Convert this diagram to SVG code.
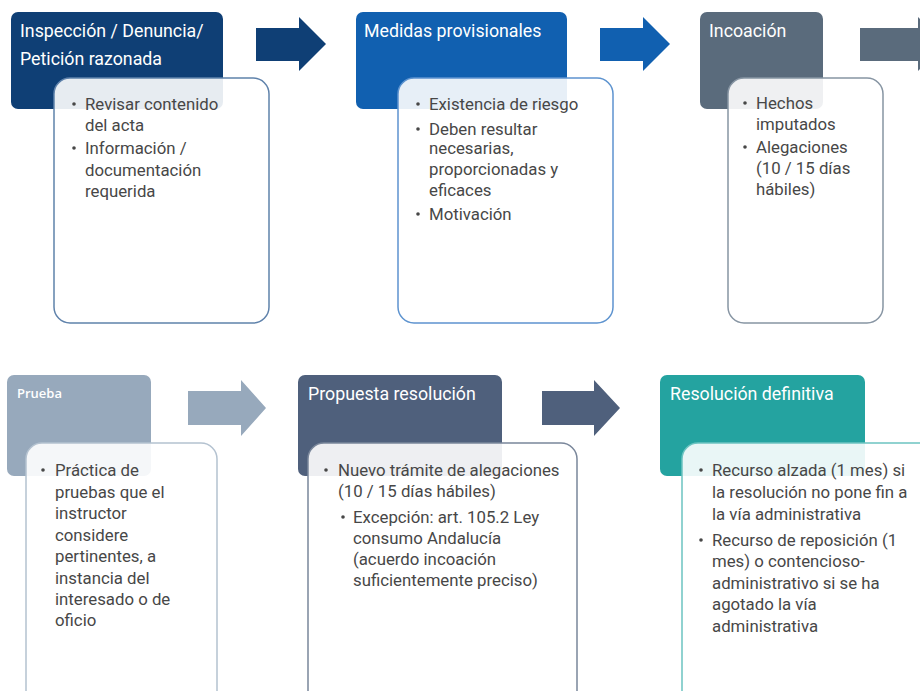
<svg xmlns="http://www.w3.org/2000/svg" width="920" height="691" viewBox="0 0 920 691">
  <style>
    .hd { font-family: Roboto, "Liberation Sans", Arial, sans-serif; font-size: 17.8px; fill: #ffffff; }
    .hd-s { font-family: "Open Sans", "Liberation Sans", sans-serif; font-size: 13px; font-weight: 600; fill: #ffffff; }
    .bd { fill: #ffffff; fill-opacity: 0.9; stroke-width: 1.5; }
    .tx { font-family: Roboto, "Liberation Sans", Arial, sans-serif; font-size: 16.8px; fill: #474747; }
    .bl { fill: #474747; }
  </style>
  <defs>
    <circle id="dot" r="1.8" class="bl"/>
  </defs>

  <!-- step arrows -->
  <g id="connectors">
    <polygon points="256,28 299,28 299,17 326,44 299,71 299,61 256,61" fill="#0f3f75"/>
    <polygon points="600,28 643,28 643,17 670,44 643,71 643,61 600,61" fill="#1160b0"/>
    <polygon points="860,28 918,28 918,17 945,44 918,71 918,61 860,61" fill="#5a6b7c"/>
    <polygon points="188,391 241,391 241,380 266,408 241,436 241,425 188,425" fill="#97a9bc"/>
    <polygon points="542,391 594,391 594,380 620,408 594,436 594,425 542,425" fill="#4f607c"/>
  </g>

  <!-- 1: Inspección -->
  <g id="node-inspeccion">
    <rect x="11" y="12" width="212" height="97" rx="7" fill="#0f3f75"/>
    <text class="hd" x="20" y="37">Inspección / Denuncia/</text>
    <text class="hd" x="20" y="65">Petición razonada</text>
    <rect class="bd" x="54" y="78" width="215" height="245" rx="16" stroke="#5f82ab"/>
    <use href="#dot" x="74" y="104"/>
    <text class="tx" x="85" y="110">Revisar contenido</text>
    <text class="tx" x="85" y="131">del acta</text>
    <use href="#dot" x="74" y="148"/>
    <text class="tx" x="85" y="154">Información /</text>
    <text class="tx" x="85" y="176">documentación</text>
    <text class="tx" x="85" y="197">requerida</text>
  </g>

  <!-- 2: Medidas provisionales -->
  <g id="node-medidas">
    <rect x="356" y="12" width="211" height="97" rx="7" fill="#1160b0"/>
    <text class="hd" x="364" y="37">Medidas provisionales</text>
    <rect class="bd" x="398" y="78" width="215" height="245" rx="16" stroke="#5d93cf"/>
    <use href="#dot" x="418" y="104"/>
    <text class="tx" x="429" y="110">Existencia de riesgo</text>
    <use href="#dot" x="418" y="129"/>
    <text class="tx" x="429" y="135">Deben resultar</text>
    <text class="tx" x="429" y="154">necesarias,</text>
    <text class="tx" x="429" y="175">proporcionadas y</text>
    <text class="tx" x="429" y="196">eficaces</text>
    <use href="#dot" x="418" y="214"/>
    <text class="tx" x="429" y="220">Motivación</text>
  </g>

  <!-- 3: Incoación -->
  <g id="node-incoacion">
    <rect x="700" y="12" width="123" height="97" rx="7" fill="#5a6b7c"/>
    <text class="hd" x="709" y="37">Incoación</text>
    <rect class="bd" x="728" y="78" width="155" height="245" rx="16" stroke="#8795a3"/>
    <use href="#dot" x="745" y="103"/>
    <text class="tx" x="756" y="109">Hechos</text>
    <text class="tx" x="756" y="130">imputados</text>
    <use href="#dot" x="745" y="147"/>
    <text class="tx" x="756" y="153">Alegaciones</text>
    <text class="tx" x="756" y="174">(10 / 15 días</text>
    <text class="tx" x="756" y="195">hábiles)</text>
  </g>

  <!-- 4: Prueba -->
  <g id="node-prueba">
    <rect x="7" y="375" width="144" height="101" rx="7" fill="#97a9bc"/>
    <text class="hd-s" x="17" y="398">Prueba</text>
    <rect class="bd" x="26" y="443" width="191" height="265" rx="16" stroke="#b4c2d0"/>
    <use href="#dot" x="43" y="470"/>
    <text class="tx" x="55" y="476">Práctica de</text>
    <text class="tx" x="55" y="498">pruebas que el</text>
    <text class="tx" x="55" y="519">instructor</text>
    <text class="tx" x="55" y="541">considere</text>
    <text class="tx" x="55" y="562">pertinentes, a</text>
    <text class="tx" x="55" y="584">instancia del</text>
    <text class="tx" x="55" y="605">interesado o de</text>
    <text class="tx" x="55" y="626">oficio</text>
  </g>

  <!-- 5: Propuesta resolución -->
  <g id="node-propuesta">
    <rect x="298" y="375" width="204" height="101" rx="7" fill="#4f607c"/>
    <text class="hd" x="308" y="400">Propuesta resolución</text>
    <rect class="bd" x="308" y="443" width="269" height="265" rx="16" stroke="#7a879b"/>
    <use href="#dot" x="326" y="470"/>
    <text class="tx" x="338" y="476">Nuevo trámite de alegaciones</text>
    <text class="tx" x="338" y="497">(10 / 15 días hábiles)</text>
    <use href="#dot" x="343" y="517"/>
    <text class="tx" x="353" y="523">Excepción: art. 105.2 Ley</text>
    <text class="tx" x="353" y="544">consumo Andalucía</text>
    <text class="tx" x="353" y="565">(acuerdo incoación</text>
    <text class="tx" x="353" y="586">suficientemente preciso)</text>
  </g>

  <!-- 6: Resolución definitiva -->
  <g id="node-resolucion">
    <rect x="660" y="375" width="205" height="101" rx="7" fill="#24a3a0"/>
    <text class="hd" x="670" y="400">Resolución definitiva</text>
    <rect class="bd" x="682" y="443" width="260" height="265" rx="16" stroke="#6cc4c1"/>
    <use href="#dot" x="701" y="470"/>
    <text class="tx" x="712" y="476">Recurso alzada (1 mes) si</text>
    <text class="tx" x="712" y="498">la resolución no pone fin a</text>
    <text class="tx" x="712" y="520">la vía administrativa</text>
    <use href="#dot" x="701" y="540"/>
    <text class="tx" x="712" y="546">Recurso de reposición (1</text>
    <text class="tx" x="712" y="567">mes) o contencioso-</text>
    <text class="tx" x="712" y="589">administrativo si se ha</text>
    <text class="tx" x="712" y="610">agotado la vía</text>
    <text class="tx" x="712" y="632">administrativa</text>
  </g>
</svg>
